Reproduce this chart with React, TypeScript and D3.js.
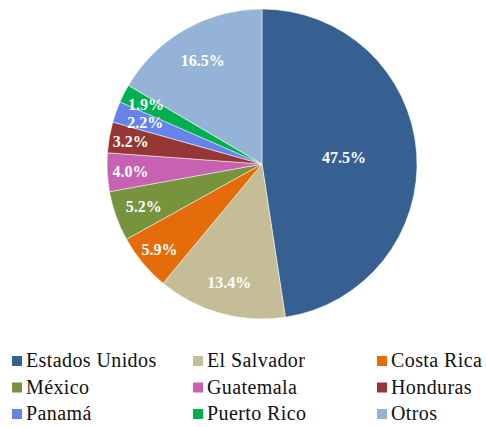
import React from 'react';
import * as d3 from 'd3';

// Slice data, clockwise from 12 o'clock
const countries = ['Estados Unidos', 'El Salvador', 'Costa Rica', 'México', 'Guatemala', 'Honduras', 'Panamá', 'Puerto Rico', 'Otros'];
const shares = [47.5, 13.4, 5.9, 5.2, 4.0, 3.2, 2.2, 1.9, 16.5];
const colors = ['#376092', '#C4BD97', '#E46C0A', '#77933C', '#C761B1', '#953735', '#6783EA', '#00B050', '#95B3D7'];

// label distance from centre, as a fraction of the radius
const labelPos = [0.53, 0.79, 0.86, 0.81, 0.85, 0.86, 0.8, 0.84, 0.77];

const W = 487;
const H = 427;
const FONT = 'Liberation Serif';

const App = () => {
    const cx = 262, cy = 164, r = 155;
    const data = countries.map((c, i) => ({ name: c, value: shares[i], i }));

    const pie = d3.pie<any>().value(d => d.value).sort(null);
    const arcs = pie(data);
    const arc = d3.arc<any>().innerRadius(0).outerRadius(r);

    // Legend: 3 columns x 3 rows
    const colX = [12, 193, 377];
    const rowY = [356, 382.5, 409];

    return (
        <svg width={W} height={H} style={{ position: 'absolute', left: 0, top: 0, background: 'white' }}>
            <g transform={`translate(${cx},${cy})`}>
                {arcs.map(d => (
                    <path key={d.data.name} d={arc(d) as string} fill={colors[d.data.i]} stroke="white" strokeWidth={0.5} />
                ))}
                {arcs.map(d => {
                    const a = (d.startAngle + d.endAngle) / 2;
                    const rr = r * labelPos[d.data.i];
                    return (
                        <text key={'l' + d.data.name}
                            x={Math.sin(a) * rr} y={-Math.cos(a) * rr}
                            dy="0.35em" textAnchor="middle" fill="white"
                            fontFamily={FONT} fontWeight="bold" fontSize={16}>
                            {d.data.value.toFixed(1) + '%'}
                        </text>
                    );
                })}
            </g>
            <g>
                {countries.map((c, i) => {
                    const x = colX[i % 3];
                    const y = rowY[Math.floor(i / 3)];
                    return (
                        <g key={c}>
                            <rect x={x} y={y} width={10} height={10} fill={colors[i]} />
                            <text x={x + 14} y={y + 11} fontFamily={FONT} fontSize={20} letterSpacing={0.4} fill="#111">{c}</text>
                        </g>
                    );
                })}
            </g>
        </svg>
    );
};

export default App;
